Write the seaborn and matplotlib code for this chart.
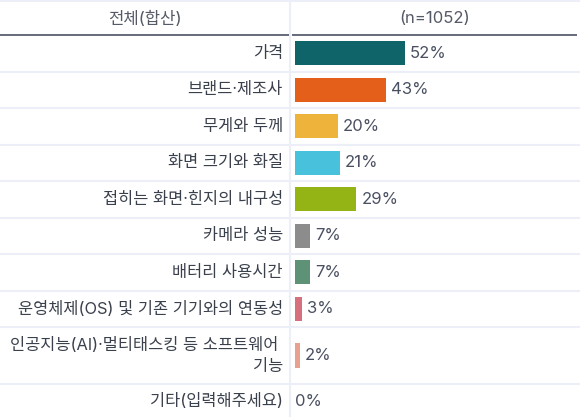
import matplotlib
matplotlib.use('Agg')
import matplotlib.pyplot as plt
import pandas as pd
import seaborn as sns

# ===== data =====
items = ['가격', '브랜드·제조사', '무게와 두께', '화면 크기와 화질', '접히는 화면·힌지의 내구성',
         '카메라 성능', '배터리 사용시간', '운영체제(OS) 및 기존 기기와의 연동성',
         '인공지능(AI)·멀티태스킹 등 소프트웨어 \n기능', '기타(입력해주세요)']
values = [52, 43, 20, 21, 29, 7, 7, 3, 2, 0]
bar_colors = ['#0e6468', '#e4601a', '#eeb33a', '#48c1dd', '#94b416',
              '#8c8c8c', '#5e9276', '#d6707e', '#e8a090', '#cccccc']
header_left = '전체(합산)'
header_right = '(n=1052)'

# ===== layout (pixels) =====
W, H = 580, 417
header_h = 35
row_h = [36.5] * 8 + [57, 34]
divider_x = 290
bar_x0 = 295.3
px_per_pct = 2.11

bounds = [header_h]
for h in row_h:
    bounds.append(bounds[-1] + h)
centers = [(bounds[i] + bounds[i + 1]) / 2 for i in range(len(row_h))]

df = pd.DataFrame({'item': items, 'value': values, 'ypos': centers})

sns.set_style('white')
plt.rcParams['font.family'] = ['Inter', 'Noto Sans CJK KR', 'DejaVu Sans']

fig = plt.figure(figsize=(W / 100, H / 100), dpi=100)

# background table in pixel coords
bg = fig.add_axes([0, 0, 1, 1])
bg.set_xlim(0, W)
bg.set_ylim(H, 0)
bg.axis('off')

grid_c = '#eceef8'
bg.hlines([0.8] + bounds[1:-1], 0, W, color=grid_c, lw=1.5)
bg.vlines(divider_x, 0, H, color=grid_c, lw=1.5)
bg.hlines(header_h, 0, divider_x - 1.5, color='#4b5262', lw=1.2)
bg.hlines(header_h, divider_x + 1.5, W - 3, color='#4b5262', lw=1.2)

bg.text(divider_x / 2, header_h / 2 + 1, header_left, ha='center', va='center',
        fontsize=12, color='#555a66')
bg.text((divider_x + W) / 2, header_h / 2 + 1, header_right, ha='center', va='center',
        fontsize=12, color='#555a66')

for name, yc in zip(items, centers):
    bg.text(283, yc, name, ha='right', va='center', fontsize=11.8, color='#3a404c',
            multialignment='right', linespacing=1.45)

# bars
ax = fig.add_axes([bar_x0 / W, 0, 1 - bar_x0 / W, 1])
ax.patch.set_alpha(0)
sns.barplot(data=df, x='value', y='ypos', hue='item', orient='h', native_scale=True,
            palette=dict(zip(items, bar_colors)), saturation=1, dodge=False, width=0.67,
            linewidth=0, legend=False, ax=ax)
ax.set_xlim(0, (W - bar_x0) / px_per_pct)
ax.set_ylim(H, 0)
ax.axis('off')

for v, yc in zip(values, centers):
    gap = 5 if v > 0 else 0
    ax.annotate(f'{v}%', (v, yc), xytext=(gap, 0), textcoords='offset pixels',
                ha='left', va='center', fontsize=12, color='#4a5061')

fig.savefig('out.png', dpi=100)
